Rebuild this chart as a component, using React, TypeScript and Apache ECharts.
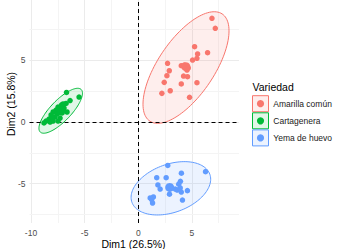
import React, { useEffect, useRef } from "react";
import * as echarts from "echarts";

const groups = ["Amarilla común", "Cartagenera", "Yema de huevo"];
const colors = ["#F8766D", "#00BA38", "#619CFF"];
const fills = ["rgba(248,118,109,0.12)", "rgba(0,186,56,0.12)", "rgba(97,156,255,0.12)"];

const amarillaX = [6.87, 7.18, 5.25, 5.53, 6.46, 5.47, 5.06, 2.73, 4.01, 4.54, 2.89, 2.67, 4.22, 4.59, 2.42, 4.01, 5.47, 2.98, 2.20, 4.78, 4.29, 4.66];
const amarillaY = [8.40, 7.59, 6.10, 5.51, 5.61, 5.16, 5.02, 4.75, 4.56, 4.21, 4.15, 3.75, 3.72, 3.67, 3.21, 3.08, 3.18, 2.53, 2.32, 2.00, 4.61, 4.37];

const cartageneraX = [-6.69, -5.52, -6.36, -6.73, -7.15, -7.48, -6.92, -7.67, -7.94, -7.10, -7.57, -8.13, -7.76, -7.29, -8.32, -7.94, -8.60, -7.48, -8.79, -6.64, -7.01, -8.22, -8.04];
const cartageneraY = [2.39, 2.02, 1.74, 1.50, 1.38, 1.21, 1.13, 0.97, 0.81, 0.73, 0.65, 0.57, 0.40, 0.32, 0.24, 0.08, 0.08, 0.08, -0.08, 0.81, 1.46, 0.00, 0.40];

const yemaX = [2.75, 6.27, 4.02, 1.72, 2.60, 3.93, 1.83, 3.77, 2.04, 3.63, 4.01, 4.58, 2.91, 4.12, 1.41, 1.25, 1.33, 1.11, 3.45, 3.91];
const yemaY = [-3.52, -4.02, -4.15, -4.51, -4.51, -4.80, -5.10, -5.04, -5.43, -5.51, -5.67, -5.56, -5.85, -6.32, -6.07, -6.28, -6.56, -6.15, -5.43, -5.34];

const meanX = [4.44, -7.23, 2.93];
const meanY = [4.48, 0.91, -5.30];

// concentration ellipses: centre, half extent in x, half extent in y, correlation
const ellipseCx = [4.45, -7.23, 3.04];
const ellipseCy = [4.41, 0.91, -5.37];
const ellipseSx = [4.01, 2.03, 3.71];
const ellipseSy = [4.52, 1.82, 2.16];
const ellipseR = [0.657, 0.78, 0.34];

const xTicks = [-10, -5, 0, 5];
const yTicks = [-5, 0, 5];
const xMinor = [-7.5, -2.5, 2.5, 7.5];
const yMinor = [-7.5, -2.5, 2.5, 7.5];

const FONT = "'Liberation Sans', Arial, Helvetica, sans-serif";

export default function App() {
  const ref = useRef<HTMLDivElement>(null);
  useEffect(() => {
    if (!ref.current) return;
    const chart = echarts.init(ref.current, null, { renderer: "svg" });
    const pointsX = [amarillaX, cartageneraX, yemaX];
    const pointsY = [amarillaY, cartageneraY, yemaY];

    const gridLines: any[] = [];
    xTicks.forEach((v) => gridLines.push({ xAxis: v, lineStyle: { color: "#ebebeb", width: 1, type: "solid" } }));
    xMinor.forEach((v) => gridLines.push({ xAxis: v, lineStyle: { color: "#f4f4f4", width: 1, type: "solid" } }));
    yTicks.forEach((v) => gridLines.push({ yAxis: v, lineStyle: { color: "#ebebeb", width: 1, type: "solid" } }));
    yMinor.forEach((v) => gridLines.push({ yAxis: v, lineStyle: { color: "#f4f4f4", width: 1, type: "solid" } }));

    const series: any[] = [
      {
        type: "scatter",
        data: [],
        z: 1,
        silent: true,
        markLine: {
          z: 1,
          silent: true,
          symbol: ["none", "none"],
          label: { show: false },
          animation: false,
          data: gridLines,
        },
      },
    ];

    groups.forEach((g, i) => {
      series.push({
        type: "custom",
        name: g,
        coordinateSystem: "cartesian2d",
        z: 2,
        clip: true,
        silent: true,
        data: [[ellipseCx[i], ellipseCy[i], ellipseSx[i], ellipseSy[i], ellipseR[i]]],
        encode: { x: 0, y: 1 },
        renderItem: (params: any, api: any) => {
          const cx = api.value(0);
          const cy = api.value(1);
          const sx = api.value(2);
          const sy = api.value(3);
          const r = api.value(4);
          const q = Math.sqrt(1 - r * r);
          const pts: number[][] = [];
          const N = 120;
          for (let k = 0; k <= N; k++) {
            const t = (2 * Math.PI * k) / N;
            const dx = sx * Math.cos(t);
            const dy = sy * (r * Math.cos(t) + q * Math.sin(t));
            pts.push(api.coord([cx + dx, cy + dy]));
          }
          return {
            type: "polygon",
            shape: { points: pts },
            style: { fill: fills[i], stroke: colors[i], lineWidth: 1 },
          };
        },
      });
    });

    series.push({
      type: "scatter",
      data: [],
      z: 3,
      silent: true,
      markLine: {
        z: 3,
        silent: true,
        symbol: ["none", "none"],
        label: { show: false },
        animation: false,
        lineStyle: { color: "#000", width: 1, type: [4, 3] },
        data: [{ xAxis: 0 }, { yAxis: 0 }],
      },
    });

    groups.forEach((g, i) => {
      series.push({
        type: "scatter",
        name: g,
        z: 10,
        symbolSize: 5.5,
        itemStyle: { color: colors[i], opacity: 1 },
        data: pointsX[i].map((x, k) => [x, pointsY[i][k]]),
      });
    });
    groups.forEach((g, i) => {
      series.push({
        type: "scatter",
        name: g,
        z: 11,
        symbolSize: 9,
        itemStyle: { color: colors[i], opacity: 1 },
        data: [[meanX[i], meanY[i]]],
      });
    });

    const legendGraphics: any[] = [
      {
        type: "text",
        left: 252.5,
        top: 81,
        style: { text: "Variedad", fontSize: 10.5, fill: "#000", fontFamily: FONT },
      },
    ];
    const keyCenters = [103.7, 120.8, 137.9];
    groups.forEach((g, i) => {
      legendGraphics.push({
        type: "rect",
        shape: { x: 252.5, y: keyCenters[i] - 8, width: 16, height: 16 },
        style: { fill: fills[i], stroke: colors[i], lineWidth: 1 },
      });
      legendGraphics.push({
        type: "circle",
        shape: { cx: 260.5, cy: keyCenters[i], r: 3.6 },
        style: { fill: colors[i] },
      });
      legendGraphics.push({
        type: "text",
        x: 273.3,
        y: keyCenters[i],
        style: {
          text: g,
          fontSize: 8.5,
          fill: "#1a1a1a",
          fontFamily: FONT,
          textVerticalAlign: "middle",
          textAlign: "left",
        },
      });
    });

    chart.setOption({
      animation: false,
      backgroundColor: "#ffffff",
      grid: { left: 29.5, top: 0, width: 209.5, height: 223 },
      xAxis: {
        type: "value",
        min: -10.14,
        max: 9.39,
        axisLine: { show: false },
        splitLine: { show: false },
        axisTick: { show: true, customValues: xTicks, length: 3, lineStyle: { color: "#333333", width: 1 } },
        axisLabel: { customValues: xTicks, margin: 5, color: "#4d4d4d", fontSize: 8.5, fontFamily: FONT },
      },
      yAxis: {
        type: "value",
        min: -8.18,
        max: 9.88,
        axisLine: { show: false },
        splitLine: { show: false },
        axisTick: { show: true, customValues: yTicks, length: 3, lineStyle: { color: "#333333", width: 1 } },
        axisLabel: { customValues: yTicks, margin: 4, color: "#4d4d4d", fontSize: 8.5, fontFamily: FONT },
      },
      series,
      graphic: [
        {
          type: "text",
          x: 133.5,
          y: 244,
          style: {
            text: "Dim1 (26.5%)",
            fontSize: 10.5,
            fill: "#000",
            fontFamily: FONT,
            textAlign: "center",
            textVerticalAlign: "middle",
          },
        },
        {
          type: "text",
          x: 11,
          y: 104,
          rotation: Math.PI / 2,
          style: {
            text: "Dim2 (15.8%)",
            fontSize: 10.5,
            fill: "#000",
            fontFamily: FONT,
            textAlign: "center",
            textVerticalAlign: "middle",
          },
        },
        ...legendGraphics,
      ],
    });
    return () => chart.dispose();
  }, []);
  return (
    <div
      ref={ref}
      style={{ position: "absolute", left: 0, top: 0, width: 344, height: 249 }}
    />
  );
}
